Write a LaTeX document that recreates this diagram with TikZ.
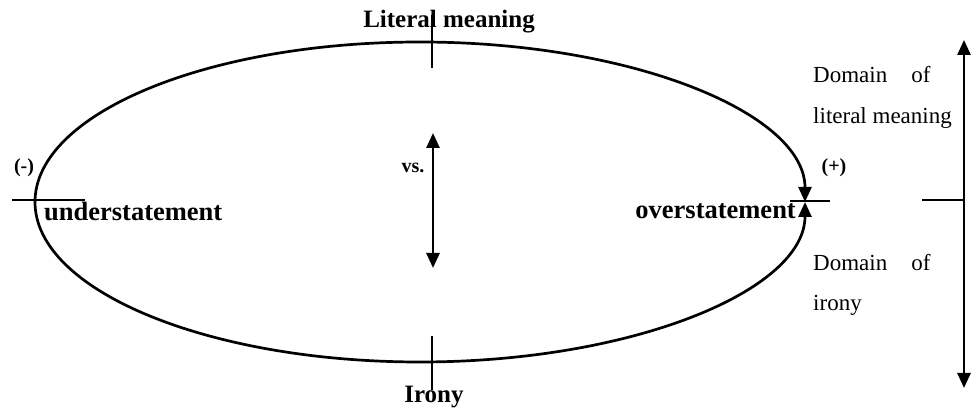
\documentclass[tikz,border=0pt]{standalone}
\usepackage{fontspec}
\setmainfont{Liberation Serif}
\usetikzlibrary{arrows.meta}
\begin{document}
\begin{tikzpicture}[x=1pt,y=1pt,
  lbl/.style={font=\bfseries\fontsize{25}{28}\selectfont, inner sep=0pt},
  big/.style={font=\bfseries\fontsize{26.5}{30}\selectfont, inner sep=0pt},
  sml/.style={font=\bfseries\fontsize{20}{24}\selectfont, inner sep=0pt},
  dom/.style={font=\fontsize{23}{26}\selectfont, inner sep=0pt, anchor=west},
  ln/.style={line width=2.7pt},
  tip/.style={-{Triangle[length=15pt,width=13pt]}},
  dbl/.style={{Triangle[length=15pt,width=13pt]}-{Triangle[length=15pt,width=13pt]}}]
\useasboundingbox (0,0) rectangle (971,414);
\coordinate (c) at (420,212);
\coordinate (L) at (35,212);
\coordinate (R) at (805,212);
% ellipse as two arcs meeting at right point with arrows
\draw[ln,tip] (L) arc[start angle=180,end angle=0,x radius=385,y radius=160];
\draw[ln,tip] (L) arc[start angle=180,end angle=360,x radius=385,y radius=160];
% ticks
\coordinate (tl1) at (12,214); \coordinate (tl2) at (85,214);
\draw[ln] (tl1) -- (tl2);
\coordinate (tr1) at (790,213); \coordinate (tr2) at (830,213);
\draw[ln] (tr1) -- (tr2);
\coordinate (tt1) at (432,399); \coordinate (tt2) at (432,346);
\draw[ln] (tt1) -- (tt2);
\coordinate (tb1) at (432,78); \coordinate (tb2) at (432,24);
\draw[ln] (tb1) -- (tb2);
% central vs arrow
\coordinate (va) at (433,281); \coordinate (vb) at (433,146);
\draw[ln,dbl] (va) -- (vb);
% right domain arrow
\coordinate (da) at (964,374); \coordinate (db) at (964,26);
\draw[ln,dbl] (da) -- (db);
\coordinate (h1) at (922,214); \coordinate (h2) at (964,214);
\draw[ln] (h1) -- (h2);
% labels
\node[lbl] (lit) at (449,392) {Literal meaning};
\node[lbl] (iro) at (434,17) {Irony};
\node[sml] (minus) at (24,246) {(-)};
\node[sml] (plus) at (834,246) {(+)};
\node[sml] (vs) at (413,246) {vs.};
\node[big,anchor=west] (und) at (44,203) {understatement};
\node[big,anchor=east] (ovr) at (796,203) {overstatement};
\node[dom] (d1) at (813,339) {Domain\hspace{1.05em}of};
\node[dom] (d2) at (813,296) {literal meaning};
\node[dom] (d3) at (813,151) {Domain\hspace{1.05em}of};
\node[dom] (d4) at (813,109) {irony};
\end{tikzpicture}
\end{document}
